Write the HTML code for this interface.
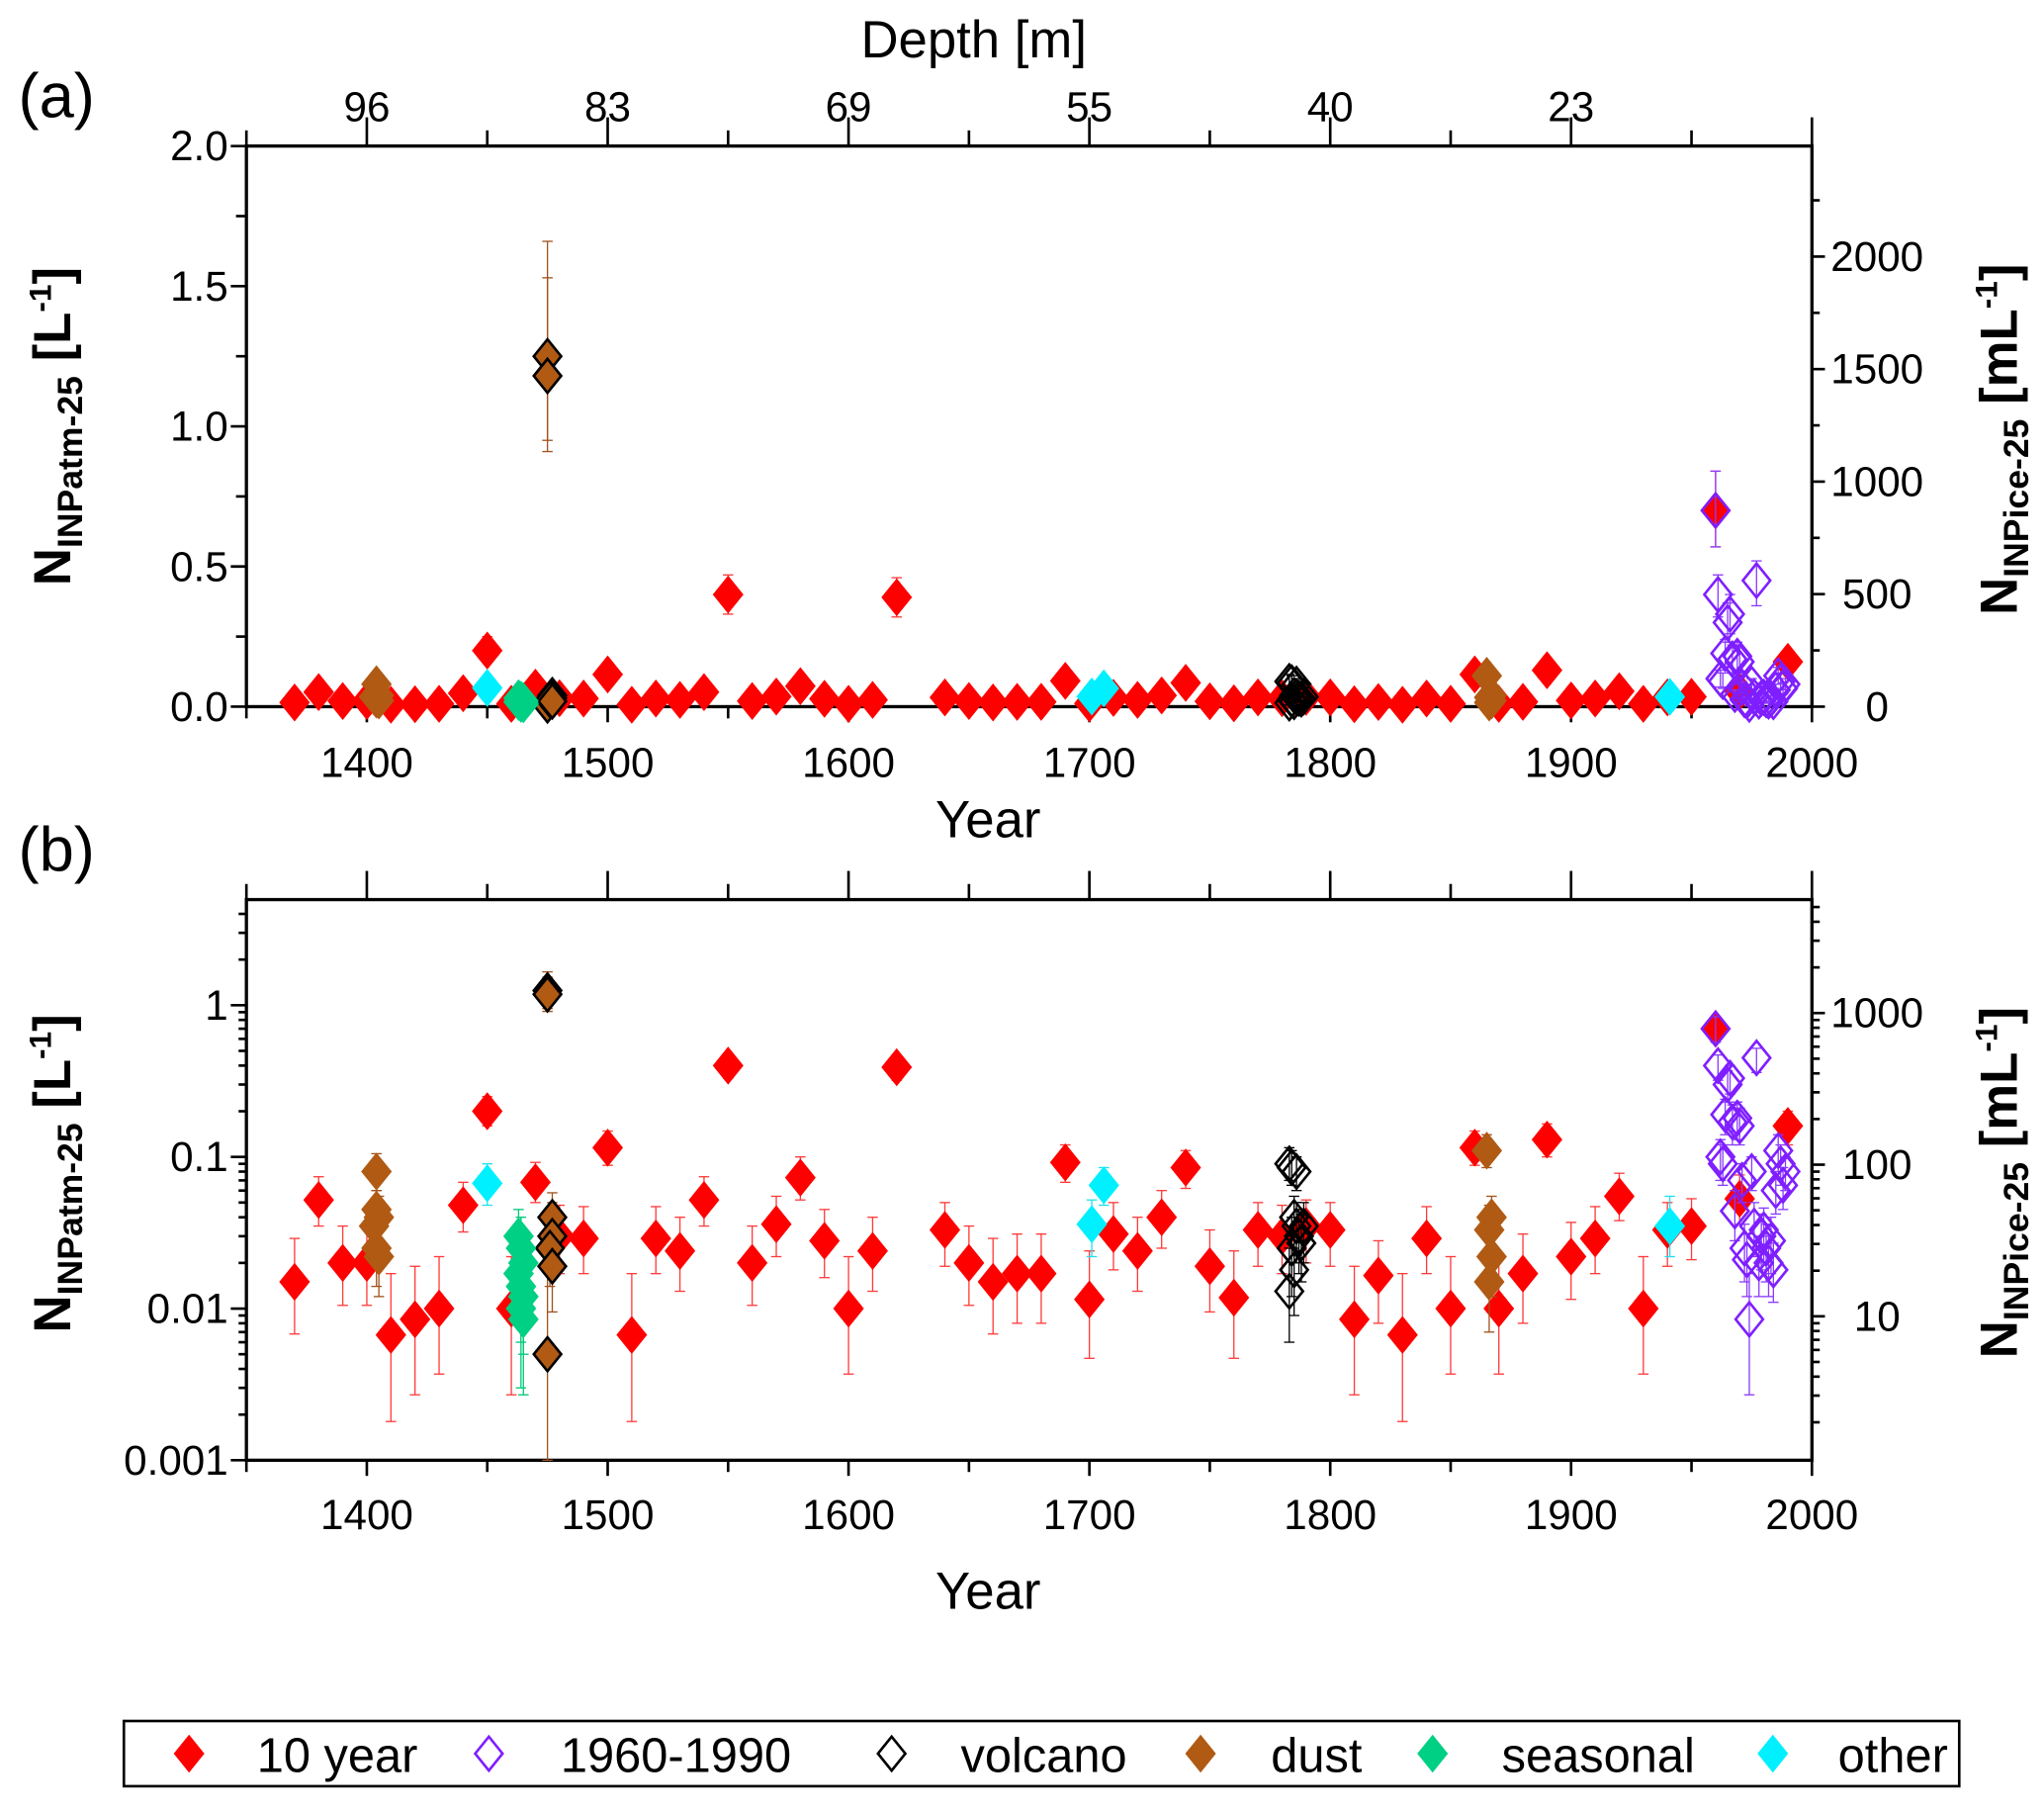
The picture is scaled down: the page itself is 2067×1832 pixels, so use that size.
<!DOCTYPE html>
<html><head><meta charset="utf-8"><style>
html,body{margin:0;padding:0;background:#fff;}
svg text{font-family:"Liberation Sans",Arial,sans-serif;}
</style></head><body>
<svg id="c" xmlns="http://www.w3.org/2000/svg" width="2067" height="1827" viewBox="0 0 1568 1386"></svg>
<script>
// ---- data ----
const R_year=[1370,1380,1390,1400,1410,1420,1430,1440,1450,1460,1470,1480,1490,1500,1510,1520,1530,1540,1550,1560,1570,1580,1590,1600,1610,1620,1640,1650,1660,1670,1680,1690,1700,1710,1720,1730,1740,1750,1760,1770,1780,1790,1800,1810,1820,1830,1840,1850,1860,1870,1880,1890,1900,1910,1920,1930,1940,1950,1960,1970,1990];
const R_val=[.015,.052,.020,.020,.0067,.0085,.010,.048,.20,.010,.068,.030,.029,.115,.0067,.029,.024,.052,.40,.020,.036,.073,.028,.010,.024,.39,.033,.020,.015,.017,.017,.092,.0115,.031,.024,.040,.085,.019,.0118,.033,.030,.035,.033,.0085,.0165,.0067,.029,.010,.115,.010,.017,.13,.022,.029,.055,.010,.033,.035,.70,.053,.16];
const R_lo=[.0068,.035,.0105,.0105,.0018,.0027,.0037,.032,.16,.0027,.05,.017,.017,.088,.0018,.017,.013,.035,.33,.0105,.022,.052,.016,.0037,.013,.32,.019,.0105,.0068,.008,.008,.068,.0047,.018,.013,.025,.062,.0095,.0047,.019,.017,.02,.019,.0027,.008,.0018,.017,.0037,.088,.0037,.008,.10,.0115,.017,.038,.0037,.019,.021,.57,.036,.12];
const R_hi=[.029,.074,.035,.035,.017,.019,.022,.068,.25,.022,.092,.048,.047,.148,.017,.047,.04,.074,.47,.035,.055,.10,.045,.022,.04,.46,.05,.035,.029,.031,.031,.12,.024,.05,.04,.06,.11,.033,.024,.05,.048,.052,.05,.019,.028,.017,.047,.022,.148,.022,.031,.165,.037,.047,.078,.022,.05,.053,.84,.076,.20];

const P_year=[1960,1961,1962,1963,1964,1965,1966,1967,1968,1969,1970,1971,1972,1973,1974,1975,1976,1977,1978,1979,1980,1981,1982,1983,1984,1985,1986,1987,1988,1989];
const P_val=[.70,.40,.10,.09,.19,.30,.33,.17,.044,.18,.16,.07,.025,.021,.0085,.08,.035,.45,.02,.03,.033,.025,.02,.028,.018,.06,.11,.09,.065,.08];
const P_lo=[.57,.32,.07,.065,.14,.23,.26,.12,.028,.13,.12,.05,.015,.012,.0027,.06,.022,.36,.012,.018,.02,.015,.012,.017,.011,.042,.08,.065,.045,.06];
const P_hi=[.84,.47,.13,.12,.24,.37,.40,.22,.06,.23,.21,.09,.036,.031,.017,.10,.05,.52,.03,.042,.046,.036,.03,.04,.027,.08,.14,.12,.085,.10];

const V_year=[1783,1784,1785,1786,1784,1785,1783,1786,1787,1788,1789];
const V_val=[.09,.085,.04,.08,.025,.018,.013,.035,.03,.027,.035];
const V_lo=[.07,.065,.025,.06,.012,.009,.006,.02,.017,.015,.02];
const V_hi=[.115,.11,.055,.10,.04,.03,.025,.05,.045,.042,.05];

const D_year=[1404,1404,1405,1403,1404,1405,1475,1475,1475,1477,1477,1476,1477,1865,1867,1866,1867,1866];
const D_val=[.08,.045,.04,.035,.025,.022,1.25,1.18,.005,.04,.03,.025,.019,.11,.04,.033,.022,.015];
const D_lo=[.06,.03,.026,.022,.014,.012,.95,.91,.001,.025,.017,.014,.0095,.085,.025,.02,.012,.007];
const D_hi=[.105,.06,.055,.05,.038,.035,1.66,1.53,.02,.058,.05,.04,.032,.14,.055,.048,.035,.028];
const D_edge=[0,0,0,0,0,0,1,1,1,1,1,1,1,0,0,0,0,0];

const S_year=[1463,1464,1465,1463,1464,1465,1464,1465];
const S_val=[.030,.025,.020,.017,.014,.012,.010,.0085];
const S_lo=[.02,.015,.012,.009,.006,.005,.003,.0027];
const S_hi=[.045,.04,.032,.028,.024,.022,.02,.017];

const O_year=[1450,1701,1706,1941];
const O_val=[.067,.036,.065,.035];
const O_lo=[.048,.022,.048,.022];
const O_hi=[.09,.052,.085,.055];

const depthLabels=["96","83","69","55","40","23"];
const depthYears=[1400,1500,1600,1700,1800,1900];
const yearTicks=[1400,1500,1600,1700,1800,1900,2000];
const linTicks=[0,0.5,1.0,1.5,2.0];
const linRightTicks=[0,500,1000,1500,2000];
const logTicks=[0.001,0.01,0.1,1];
const logTickLabels=["0.001","0.01","0.1","1"];
const logRightTicks=[10,100,1000];

// ---- geometry ----
const NS="http://www.w3.org/2000/svg";
const svg=document.getElementById('c');
const X0=189,X1=1390;
const xs=y=>X0+(y-1350)/(2000-1350)*(X1-X0);
const A_top=112,A_bot=542;
const ya=v=>A_bot-v/2.0*(A_bot-A_top);
const yaR=v=>542-v/500*86.3;
const B_top=690,B_bot=1120;
const dec=(B_bot-771)/3;
const yb=v=>771-Math.log10(v)*dec;
const ybR=v=>777-(Math.log10(v)-3)*116.3;
const TF=32;

function el(tag,attrs,parent){const e=document.createElementNS(NS,tag);for(const k in attrs)e.setAttribute(k,attrs[k]);(parent||svg).appendChild(e);return e;}
function txt(s,x,y,attrs,parent){const t=el('text',Object.assign({x:x,y:y},attrs),parent);t.textContent=s;return t;}

function axes(g,top,bot){
  el('rect',{x:X0,y:top,width:X1-X0,height:bot-top,fill:'none',stroke:'#000','stroke-width':2.5},g);
  for(let yr=1350;yr<=2000;yr+=50){
    const x=xs(yr), major=yr%100===0;
    el('line',{x1:x,y1:bot,x2:x,y2:bot+(major?12:9),stroke:'#000','stroke-width':2},g);
    el('line',{x1:x,y1:top,x2:x,y2:top-(major?22:12),stroke:'#000','stroke-width':2},g);
  }
}

function series(g,yf,yrs,vals,lo,hi,color,fill,edge,name,clipTop){
  const grp=el('g',{},g);
  
  
  for(let i=0;i<yrs.length;i++){
    const x=xs(yrs[i]);
    const y1=yf(lo[i]),y2=Math.max(yf(hi[i]),clipTop);
    el('line',{x1:x,y1:y1,x2:x,y2:y2,stroke:color,'stroke-width':1},grp);
    el('line',{x1:x-4,y1:y1,x2:x+4,y2:y1,stroke:color,'stroke-width':1},grp);
    el('line',{x1:x-4,y1:y2,x2:x+4,y2:y2,stroke:color,'stroke-width':1},grp);
  }
  for(let i=0;i<yrs.length;i++){
    const x=xs(yrs[i]),y=yf(vals[i]);
    const ec=edge?(Array.isArray(edge)?(edge[i]?'#000':fill):edge):fill;
    const d=el('polygon',{points:`${x},${y-13} ${x+10.5},${y} ${x},${y+13} ${x-10.5},${y}`,fill:fill,stroke:ec,'stroke-width':2},grp);
    
    
  }
}

function drawAll(g,yf,top){
  series(g,yf,R_year,R_val,R_lo,R_hi,'#ff3b3b','#ff0000',null,'series-10-year',top);
  series(g,yf,P_year,P_val,P_lo,P_hi,'#8a3bff','none','#7f1fff','series-1960-1990',top);
  series(g,yf,V_year,V_val,V_lo,V_hi,'#000','none','#000','series-volcano',top);
  series(g,yf,D_year,D_val,D_lo,D_hi,'#a0521e','#b05a14',D_edge,'series-dust',top);
  series(g,yf,S_year,S_val,S_lo,S_hi,'#00c878','#00d084',null,'series-seasonal',top);
  series(g,yf,O_year,O_val,O_lo,O_hi,'#22e0f0','#00f0ff',null,'series-other',top);
}

// ---- panel a ----
const ga=el('g',{});


txt('(a)',14,90,{'font-size':48},ga);
txt('Depth [m]',747,44,{'font-size':40,'text-anchor':'middle'},ga);
for(let i=0;i<depthLabels.length;i++){
  const t=txt(depthLabels[i],xs(depthYears[i]),93,{'font-size':TF,'text-anchor':'middle'},ga);
  
}
axes(ga,A_top,A_bot);
for(let v=0;v<=2.0001;v+=0.25){
  const y=ya(v),major=Math.abs(v*2-Math.round(v*2))<1e-6;
  el('line',{x1:X0,y1:y,x2:X0-(major?12:8),y2:y,stroke:'#000','stroke-width':2},ga);
}
linTicks.forEach(v=>{const t=txt(v.toFixed(1),X0-14,ya(v)+11,{'font-size':TF,'text-anchor':'end'},ga);});
for(let v=0;v<=2250;v+=250){
  const y=yaR(v),major=v%500===0;
  el('line',{x1:X1,y1:y,x2:X1+(major?10:6),y2:y,stroke:'#000','stroke-width':2},ga);
}
linRightTicks.forEach(v=>{const t=txt(String(v),X1+50,yaR(v)+11,{'font-size':TF,'text-anchor':'middle'},ga);});
yearTicks.forEach(v=>{const t=txt(String(v),xs(v),596,{'font-size':TF,'text-anchor':'middle'},ga);});
txt('Year',758,642,{'font-size':40,'text-anchor':'middle'},ga);
drawAll(ga,ya,A_top);

// ---- panel b ----
const gb=el('g',{});


txt('(b)',14,668,{'font-size':48},gb);
axes(gb,B_top,B_bot);
for(let e=-3;e<=0;e++){
  for(let m=1;m<10;m++){
    const v=m*Math.pow(10,e); const y=yb(v); if(y<B_top) continue;
    el('line',{x1:X0,y1:y,x2:X0-(m===1?12:6),y2:y,stroke:'#000','stroke-width':2},gb);
  }
}
logTicks.forEach((v,i)=>{const t=txt(logTickLabels[i],X0-14,yb(v)+11,{'font-size':TF,'text-anchor':'end'},gb);});
for(let e=0;e<=3;e++){
  for(let m=1;m<10;m++){
    const v=m*Math.pow(10,e); const y=ybR(v); if(y<B_top||y>B_bot) continue;
    el('line',{x1:X1,y1:y,x2:X1+(m===1?10:6),y2:y,stroke:'#000','stroke-width':2},gb);
  }
}
logRightTicks.forEach(v=>{const t=txt(String(v),X1+50,ybR(v)+11,{'font-size':TF,'text-anchor':'middle'},gb);});
yearTicks.forEach(v=>{const t=txt(String(v),xs(v),1173,{'font-size':TF,'text-anchor':'middle'},gb);});
txt('Year',758,1234,{'font-size':40,'text-anchor':'middle'},gb);
drawAll(gb,yb,B_top);

// ---- axis titles (rotated) ----
function leftTitle(cy,name){
  const t=el('text',{transform:`translate(54,${cy}) rotate(-90)`,'text-anchor':'middle','font-size':40,'font-weight':'bold'});
  
  
  t.innerHTML='N<tspan font-size="27" dy="9">INPatm-25</tspan><tspan dy="-9"> [L</tspan><tspan font-size="24" dy="-15">-1</tspan><tspan dy="15">]</tspan>';
}
function rightTitle(cy,name){
  const t=el('text',{transform:`translate(1547,${cy}) rotate(-90)`,'text-anchor':'middle','font-size':40,'font-weight':'bold'});
  
  
  t.innerHTML='N<tspan font-size="27" dy="9">INPice-25</tspan><tspan dy="-9"> [mL</tspan><tspan font-size="24" dy="-15">-1</tspan><tspan dy="15">]</tspan>';
}
leftTitle(327,'left-axis-title-a');
rightTitle(337,'right-axis-title-a');
leftTitle(900,'left-axis-title-b');
rightTitle(907,'right-axis-title-b');

// ---- legend ----
const lg=el('g',{});


el('rect',{x:95,y:1320,width:1408,height:50,fill:'#fff',stroke:'#000','stroke-width':2},lg);
const legNames=['10 year','1960-1990','volcano','dust','seasonal','other'];
const legFill=['#ff0000','none','none','#b05a14','#00d084','#00f0ff'];
const legStroke=['#ff0000','#7f1fff','#000','#b05a14','#00d084','#00f0ff'];
const legMX=[145,375,684,921,1099,1360];
const legTX=[197,430,737,975,1152,1410];
for(let i=0;i<legNames.length;i++){
  const y=1345;
  const m=el('polygon',{points:`${legMX[i]},${y-13} ${legMX[i]+10.5},${y} ${legMX[i]},${y+13} ${legMX[i]-10.5},${y}`,fill:legFill[i],stroke:legStroke[i],'stroke-width':2},lg);
  
  
  const t=txt(legNames[i],legTX[i],1359,{'font-size':37},lg);
  
  
}
</script>
</body></html>
